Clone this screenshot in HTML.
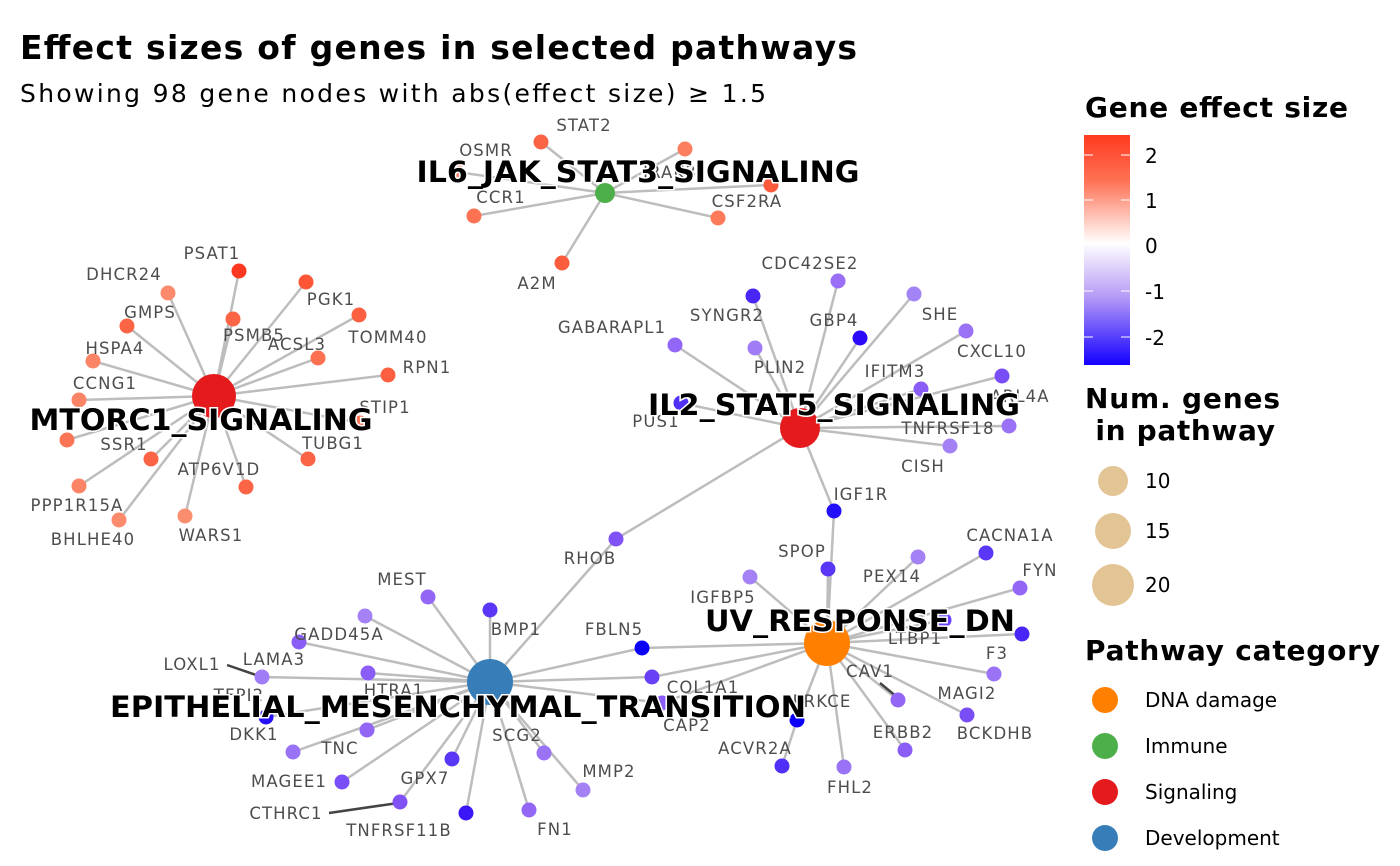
<!DOCTYPE html>
<html><head><meta charset="utf-8"><style>
body{margin:0;background:#fff}
svg{display:block}
.g{font-family:"DejaVu Sans","Liberation Sans",sans-serif;font-size:16.5px;fill:#4d4d4d;text-anchor:middle;letter-spacing:1.1px}
.h{font-family:"DejaVu Sans","Liberation Sans",sans-serif;font-size:29px;font-weight:bold;fill:#000;text-anchor:middle;stroke:#fff;stroke-width:3;paint-order:stroke}
.e line{stroke:#bdbdbd;stroke-width:2.5}
.l{font-family:"DejaVu Sans","Liberation Sans",sans-serif;font-size:20px;fill:#000}
.lt{font-family:"DejaVu Sans","Liberation Sans",sans-serif;font-size:28px;font-weight:bold;fill:#000}
</style></head><body>
<svg width="1400" height="866" viewBox="0 0 1400 866" xmlns="http://www.w3.org/2000/svg">
<defs><linearGradient id="cb" x1="0" y1="0" x2="0" y2="1">
<stop offset="0" stop-color="#ff3a20"/><stop offset="0.2" stop-color="#fe7255"/><stop offset="0.47" stop-color="#ffffff"/><stop offset="0.7" stop-color="#b79cf6"/><stop offset="1" stop-color="#1400ff"/></linearGradient></defs>
<text x="20" y="59" font-family="DejaVu Sans,Liberation Sans,sans-serif" font-size="33" font-weight="bold" textLength="837">Effect sizes of genes in selected pathways</text>
<text x="20" y="102" font-family="DejaVu Sans,Liberation Sans,sans-serif" font-size="25" textLength="746">Showing 98 gene nodes with abs(effect size) ≥ 1.5</text>

<g class="e">
<line x1="605" y1="193" x2="541" y2="142"/><line x1="605" y1="193" x2="457" y2="172"/><line x1="605" y1="193" x2="685" y2="149"/><line x1="605" y1="193" x2="771" y2="185"/><line x1="605" y1="193" x2="474" y2="216"/><line x1="605" y1="193" x2="718" y2="218"/><line x1="605" y1="193" x2="562" y2="263"/>
<line x1="214" y1="396" x2="239" y2="271"/><line x1="214" y1="396" x2="168" y2="293"/><line x1="214" y1="396" x2="127" y2="326"/><line x1="214" y1="396" x2="93" y2="361"/><line x1="214" y1="396" x2="79" y2="400"/><line x1="214" y1="396" x2="67" y2="440"/><line x1="214" y1="396" x2="151" y2="459"/><line x1="214" y1="396" x2="79" y2="486"/><line x1="214" y1="396" x2="119" y2="520"/><line x1="214" y1="396" x2="185" y2="516"/><line x1="214" y1="396" x2="246" y2="487"/><line x1="214" y1="396" x2="308" y2="459"/><line x1="214" y1="396" x2="360" y2="423"/><line x1="214" y1="396" x2="388" y2="375"/><line x1="214" y1="396" x2="318" y2="358"/><line x1="214" y1="396" x2="359" y2="315"/><line x1="214" y1="396" x2="306" y2="282"/><line x1="214" y1="396" x2="233" y2="319"/>
<line x1="800" y1="428" x2="838" y2="281"/><line x1="800" y1="428" x2="753" y2="296"/><line x1="800" y1="428" x2="675" y2="345"/><line x1="800" y1="428" x2="755" y2="348"/><line x1="800" y1="428" x2="860" y2="338"/><line x1="800" y1="428" x2="914" y2="294"/><line x1="800" y1="428" x2="966" y2="331"/><line x1="800" y1="428" x2="1002" y2="376"/><line x1="800" y1="428" x2="921" y2="389"/><line x1="800" y1="428" x2="1009" y2="426"/><line x1="800" y1="428" x2="950" y2="446"/><line x1="800" y1="428" x2="834" y2="511"/><line x1="800" y1="428" x2="681" y2="403"/><line x1="800" y1="428" x2="616" y2="539"/>
<line x1="490" y1="682" x2="616" y2="539"/><line x1="490" y1="682" x2="428" y2="597"/><line x1="490" y1="682" x2="490" y2="610"/><line x1="490" y1="682" x2="365" y2="616"/><line x1="490" y1="682" x2="299" y2="642"/><line x1="490" y1="682" x2="262" y2="677"/><line x1="490" y1="682" x2="368" y2="673"/><line x1="490" y1="682" x2="266" y2="717"/><line x1="490" y1="682" x2="367" y2="730"/><line x1="490" y1="682" x2="293" y2="752"/><line x1="490" y1="682" x2="342" y2="782"/><line x1="490" y1="682" x2="452" y2="759"/><line x1="490" y1="682" x2="400" y2="802"/><line x1="490" y1="682" x2="466" y2="813"/><line x1="490" y1="682" x2="529" y2="810"/><line x1="490" y1="682" x2="544" y2="753"/><line x1="490" y1="682" x2="583" y2="790"/><line x1="490" y1="682" x2="642" y2="648"/><line x1="490" y1="682" x2="652" y2="677"/><line x1="490" y1="682" x2="662" y2="703"/>
<line x1="827" y1="643" x2="834" y2="511"/><line x1="827" y1="643" x2="828" y2="569"/><line x1="827" y1="643" x2="750" y2="577"/><line x1="827" y1="643" x2="918" y2="557"/><line x1="827" y1="643" x2="986" y2="553"/><line x1="827" y1="643" x2="1020" y2="588"/><line x1="827" y1="643" x2="944" y2="620"/><line x1="827" y1="643" x2="1022" y2="634"/><line x1="827" y1="643" x2="994" y2="674"/><line x1="827" y1="643" x2="898" y2="700"/><line x1="827" y1="643" x2="967" y2="715"/><line x1="827" y1="643" x2="905" y2="750"/><line x1="827" y1="643" x2="844" y2="767"/><line x1="827" y1="643" x2="797" y2="720"/><line x1="797" y1="720" x2="782" y2="766"/><line x1="827" y1="643" x2="642" y2="648"/><line x1="827" y1="643" x2="652" y2="677"/><line x1="827" y1="643" x2="662" y2="703"/>
</g>
<g stroke="#444" stroke-width="2.5"><line x1="227" y1="665" x2="259" y2="676"/><line x1="329" y1="813" x2="398" y2="803"/><line x1="880" y1="683" x2="897" y2="697"/></g>

<g>
<circle cx="541" cy="142" r="7.5" fill="#fc6446"/><circle cx="457" cy="172" r="7.5" fill="#fc8a6a"/><circle cx="685" cy="149" r="7.5" fill="#fc8060"/><circle cx="771" cy="185" r="7.5" fill="#fc5a3c"/><circle cx="474" cy="216" r="7.5" fill="#fc7252"/><circle cx="718" cy="218" r="7.5" fill="#fc7a5a"/><circle cx="562" cy="263" r="7.5" fill="#fc5c3e"/>
<circle cx="239" cy="271" r="7.5" fill="#fc3820"/><circle cx="168" cy="293" r="7.5" fill="#fc8a6c"/><circle cx="127" cy="326" r="7.5" fill="#fc6446"/><circle cx="93" cy="361" r="7.5" fill="#fc8466"/><circle cx="79" cy="400" r="7.5" fill="#fc8466"/><circle cx="67" cy="440" r="7.5" fill="#fc7456"/><circle cx="151" cy="459" r="7.5" fill="#fc6446"/><circle cx="79" cy="486" r="7.5" fill="#fc8466"/><circle cx="119" cy="520" r="7.5" fill="#fc8a6c"/><circle cx="185" cy="516" r="7.5" fill="#fc8e70"/><circle cx="246" cy="487" r="7.5" fill="#fc6446"/><circle cx="308" cy="459" r="7.5" fill="#fc6446"/><circle cx="360" cy="423" r="7.5" fill="#fc7456"/><circle cx="388" cy="375" r="7.5" fill="#fc6040"/><circle cx="318" cy="358" r="7.5" fill="#fc7052"/><circle cx="359" cy="315" r="7.5" fill="#fc6040"/><circle cx="306" cy="282" r="7.5" fill="#fc5636"/><circle cx="233" cy="319" r="7.5" fill="#fc6446"/>
<circle cx="838" cy="281" r="7.5" fill="#9a6ef6"/><circle cx="753" cy="296" r="7.5" fill="#4a26f6"/><circle cx="675" cy="345" r="7.5" fill="#9266f6"/><circle cx="755" cy="348" r="7.5" fill="#a07cf6"/><circle cx="860" cy="338" r="7.5" fill="#2a0af8"/><circle cx="914" cy="294" r="7.5" fill="#a284f6"/><circle cx="966" cy="331" r="7.5" fill="#9a72f6"/><circle cx="1002" cy="376" r="7.5" fill="#7a4ef6"/><circle cx="921" cy="389" r="7.5" fill="#8a5ef6"/><circle cx="1009" cy="426" r="7.5" fill="#9a72f6"/><circle cx="950" cy="446" r="7.5" fill="#a482f6"/><circle cx="834" cy="511" r="7.5" fill="#2410f8"/><circle cx="681" cy="403" r="7.5" fill="#5030f6"/><circle cx="616" cy="539" r="7.5" fill="#8052f6"/>
<circle cx="428" cy="597" r="7.5" fill="#9466f6"/><circle cx="490" cy="610" r="7.5" fill="#5a36f6"/><circle cx="365" cy="616" r="7.5" fill="#a482f6"/><circle cx="299" cy="642" r="7.5" fill="#8a5ef6"/><circle cx="262" cy="677" r="7.5" fill="#a07cf6"/><circle cx="368" cy="673" r="7.5" fill="#8a5ef6"/><circle cx="266" cy="717" r="7.5" fill="#2410f8"/><circle cx="367" cy="730" r="7.5" fill="#9466f6"/><circle cx="293" cy="752" r="7.5" fill="#9a72f6"/><circle cx="342" cy="782" r="7.5" fill="#7a4ef6"/><circle cx="452" cy="759" r="7.5" fill="#5a36f6"/><circle cx="400" cy="802" r="7.5" fill="#8052f6"/><circle cx="466" cy="813" r="7.5" fill="#3a16f8"/><circle cx="529" cy="810" r="7.5" fill="#9466f6"/><circle cx="544" cy="753" r="7.5" fill="#9a72f6"/><circle cx="583" cy="790" r="7.5" fill="#a482f6"/><circle cx="642" cy="648" r="7.5" fill="#0a00fa"/><circle cx="652" cy="677" r="7.5" fill="#6a40f6"/><circle cx="662" cy="703" r="7.5" fill="#8a5ef6"/>
<circle cx="828" cy="569" r="7.5" fill="#5a36f6"/><circle cx="750" cy="577" r="7.5" fill="#a482f6"/><circle cx="918" cy="557" r="7.5" fill="#a482f6"/><circle cx="986" cy="553" r="7.5" fill="#5a36f6"/><circle cx="1020" cy="588" r="7.5" fill="#9466f6"/><circle cx="944" cy="620" r="7.5" fill="#6a40f6"/><circle cx="1022" cy="634" r="7.5" fill="#4a26f6"/><circle cx="994" cy="674" r="7.5" fill="#9a72f6"/><circle cx="898" cy="700" r="7.5" fill="#9466f6"/><circle cx="967" cy="715" r="7.5" fill="#7a4ef6"/><circle cx="905" cy="750" r="7.5" fill="#8a5ef6"/><circle cx="844" cy="767" r="7.5" fill="#9a72f6"/><circle cx="797" cy="720" r="7.5" fill="#0a00fa"/><circle cx="782" cy="766" r="7.5" fill="#5030f6"/>
<circle cx="605" cy="193" r="10" fill="#4daf4a"/><circle cx="214" cy="396" r="22" fill="#e41a1c"/><circle cx="800" cy="428" r="20" fill="#e41a1c"/><circle cx="490" cy="682" r="23" fill="#377eb8"/><circle cx="827" cy="643" r="23" fill="#ff7f00"/>
</g>

<g class="g">
<text x="584" y="131">STAT2</text><text x="486" y="156">OSMR</text><text x="670" y="178">IRAK3</text><text x="501" y="203">CCR1</text><text x="747" y="207">CSF2RA</text><text x="537" y="289">A2M</text>
<text x="212" y="259">PSAT1</text><text x="124" y="280">DHCR24</text><text x="150" y="318">GMPS</text><text x="115" y="354">HSPA4</text><text x="105" y="389">CCNG1</text><text x="124" y="450">SSR1</text><text x="77" y="511">PPP1R15A</text><text x="93" y="545">BHLHE40</text><text x="211" y="541">WARS1</text><text x="219" y="475">ATP6V1D</text><text x="333" y="449">TUBG1</text><text x="385" y="413">STIP1</text><text x="427" y="373">RPN1</text><text x="388" y="343">TOMM40</text><text x="331" y="305">PGK1</text><text x="254" y="341">PSMB5</text><text x="297" y="350">ACSL3</text>
<text x="810" y="269">CDC42SE2</text><text x="727" y="321">SYNGR2</text><text x="612" y="333">GABARAPL1</text><text x="780" y="373">PLIN2</text><text x="834" y="326">GBP4</text><text x="940" y="320">SHE</text><text x="992" y="357">CXCL10</text><text x="895" y="377">IFITM3</text><text x="1020" y="402">ARL4A</text><text x="948" y="434">TNFRSF18</text><text x="923" y="472">CISH</text><text x="861" y="500">IGF1R</text><text x="656" y="427">PUS1</text><text x="590" y="564">RHOB</text>
<text x="402" y="585">MEST</text><text x="516" y="635">BMP1</text><text x="339" y="640">GADD45A</text><text x="192" y="670">LOXL1</text><text x="274" y="665">LAMA3</text><text x="394" y="696">HTRA1</text><text x="239" y="701">TFPI2</text><text x="254" y="740">DKK1</text><text x="340" y="754">TNC</text><text x="289" y="787">MAGEE1</text><text x="425" y="784">GPX7</text><text x="286" y="819">CTHRC1</text><text x="399" y="836">TNFRSF11B</text><text x="555" y="835">FN1</text><text x="517" y="741">SCG2</text><text x="609" y="777">MMP2</text><text x="614" y="635">FBLN5</text>
<text x="802" y="557">SPOP</text><text x="723" y="603">IGFBP5</text><text x="892" y="582">PEX14</text><text x="1010" y="541">CACNA1A</text><text x="1040" y="576">FYN</text><text x="915" y="644">LTBP1</text><text x="997" y="659">F3</text><text x="870" y="677">CAV1</text><text x="967" y="699">MAGI2</text><text x="995" y="739">BCKDHB</text><text x="903" y="738">ERBB2</text><text x="850" y="793">FHL2</text><text x="822" y="707">PRKCE</text><text x="755" y="754">ACVR2A</text><text x="703" y="693">COL1A1</text><text x="687" y="731">CAP2</text>
</g>

<g class="h">
<text x="638" y="182" textLength="443" lengthAdjust="spacingAndGlyphs">IL6_JAK_STAT3_SIGNALING</text>
<text x="201" y="430" textLength="343" lengthAdjust="spacingAndGlyphs">MTORC1_SIGNALING</text>
<text x="834" y="415" textLength="372" lengthAdjust="spacingAndGlyphs">IL2_STAT5_SIGNALING</text>
<text x="458" y="717" textLength="696" lengthAdjust="spacingAndGlyphs">EPITHELIAL_MESENCHYMAL_TRANSITION</text>
<text x="860" y="631" textLength="310" lengthAdjust="spacingAndGlyphs">UV_RESPONSE_DN</text>
</g>

<text class="lt" x="1085" y="117" textLength="263">Gene effect size</text>
<rect x="1084" y="135" width="46" height="230" fill="url(#cb)"/>
<g stroke="#fff" stroke-width="1"><line x1="1084" y1="155" x2="1093" y2="155"/><line x1="1121" y1="155" x2="1130" y2="155"/><line x1="1084" y1="200" x2="1093" y2="200"/><line x1="1121" y1="200" x2="1130" y2="200"/><line x1="1084" y1="291" x2="1093" y2="291"/><line x1="1121" y1="291" x2="1130" y2="291"/><line x1="1084" y1="337" x2="1093" y2="337"/><line x1="1121" y1="337" x2="1130" y2="337"/></g>
<g class="l"><text x="1145" y="163">2</text><text x="1145" y="208">1</text><text x="1145" y="253">0</text><text x="1145" y="299">-1</text><text x="1145" y="345">-2</text></g>
<text class="lt" x="1085" y="408" textLength="195">Num. genes</text>
<text class="lt" x="1085" y="440" xml:space="preserve" textLength="190"> in pathway</text>
<circle cx="1113" cy="481" r="15" fill="#e3c595"/><circle cx="1113" cy="531" r="18" fill="#e3c595"/><circle cx="1113" cy="585" r="21" fill="#e3c595"/>
<g class="l"><text x="1145" y="488">10</text><text x="1145" y="538">15</text><text x="1145" y="592">20</text></g>
<text class="lt" x="1085" y="660" textLength="295">Pathway category</text>
<circle cx="1105" cy="700" r="13" fill="#ff7f00"/><circle cx="1105" cy="746" r="13" fill="#4daf4a"/><circle cx="1105" cy="792" r="13" fill="#e41a1c"/><circle cx="1105" cy="838" r="13" fill="#377eb8"/>
<g class="l"><text x="1145" y="707">DNA damage</text><text x="1145" y="753">Immune</text><text x="1145" y="799">Signaling</text><text x="1145" y="845">Development</text></g>
</svg>
</body></html>
